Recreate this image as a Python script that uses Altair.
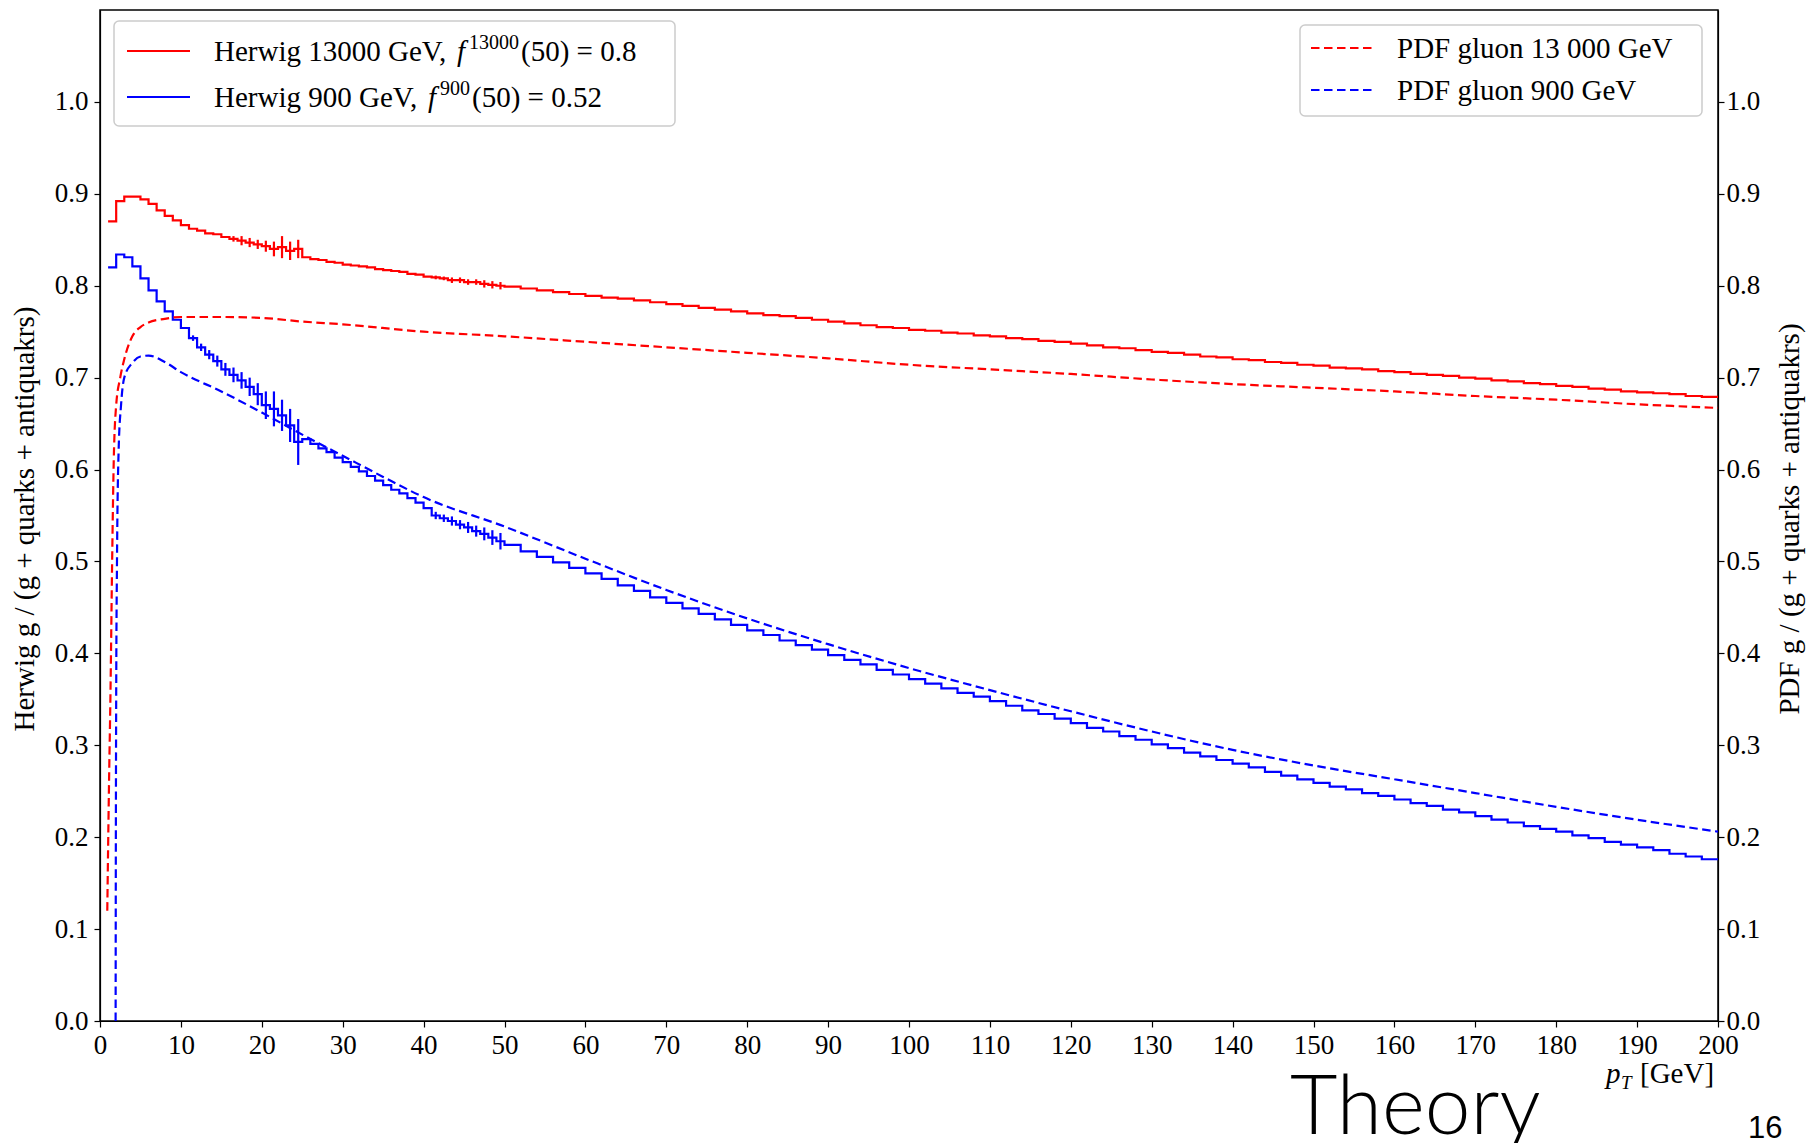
import altair as alt
import pandas as pd

FONT = "Liberation Serif"
RED = "#ff0000"
BLUE = "#0000ff"

# ---------------- data ----------------
# Herwig histograms: 1 GeV bins starting at 1..49, then 2 GeV bins 50..198
fine_bin_start = list(range(1, 50))
coarse_bin_start = list(range(50, 200, 2))

herwig_13000_fine = [
    0.870, 0.892, 0.897, 0.897, 0.894, 0.889, 0.882, 0.876, 0.871, 0.866,
    0.862, 0.860, 0.857, 0.856, 0.853, 0.851, 0.849, 0.847, 0.845, 0.843,
    0.840, 0.842, 0.838, 0.840, 0.831, 0.829, 0.828, 0.826, 0.825, 0.823,
    0.822, 0.821, 0.820, 0.818, 0.817, 0.816, 0.815, 0.813, 0.812, 0.810,
    0.809, 0.808, 0.806, 0.806, 0.804, 0.804, 0.802, 0.801, 0.800,
]
herwig_13000_coarse = [
    0.799, 0.797, 0.795, 0.793, 0.791, 0.789, 0.787, 0.786, 0.784, 0.782,
    0.780, 0.778, 0.776, 0.774, 0.772, 0.770, 0.768, 0.767, 0.765, 0.763,
    0.761, 0.759, 0.757, 0.755, 0.754, 0.752, 0.751, 0.749, 0.748, 0.746,
    0.745, 0.743, 0.742, 0.740, 0.739, 0.737, 0.735, 0.733, 0.732, 0.730,
    0.728, 0.727, 0.725, 0.723, 0.722, 0.720, 0.719, 0.717, 0.716, 0.714,
    0.713, 0.711, 0.710, 0.709, 0.707, 0.706, 0.704, 0.703, 0.702, 0.700,
    0.699, 0.697, 0.696, 0.694, 0.693, 0.691, 0.690, 0.688, 0.687, 0.685,
    0.684, 0.683, 0.682, 0.680, 0.679,
]
herwig_900_fine = [
    0.820, 0.834, 0.831, 0.821, 0.808, 0.795, 0.783, 0.772, 0.763, 0.754,
    0.743, 0.733, 0.725, 0.718, 0.709, 0.703, 0.697, 0.690, 0.682, 0.670,
    0.666, 0.659, 0.648, 0.630, 0.633, 0.628, 0.623, 0.619, 0.613, 0.608,
    0.603, 0.598, 0.593, 0.588, 0.583, 0.578, 0.574, 0.569, 0.564, 0.558,
    0.550, 0.547, 0.544, 0.540, 0.537, 0.533, 0.530, 0.526, 0.522,
]
herwig_900_coarse = [
    0.518, 0.511, 0.505, 0.499, 0.493, 0.487, 0.481, 0.474, 0.468, 0.461,
    0.455, 0.449, 0.443, 0.437, 0.431, 0.425, 0.420, 0.414, 0.409, 0.404,
    0.398, 0.393, 0.388, 0.382, 0.377, 0.372, 0.367, 0.362, 0.357, 0.353,
    0.348, 0.343, 0.338, 0.334, 0.329, 0.324, 0.319, 0.315, 0.310, 0.306,
    0.301, 0.297, 0.292, 0.288, 0.284, 0.280, 0.276, 0.271, 0.267, 0.263,
    0.259, 0.255, 0.252, 0.248, 0.245, 0.241, 0.237, 0.234, 0.230, 0.227,
    0.223, 0.219, 0.216, 0.212, 0.209, 0.206, 0.202, 0.199, 0.195, 0.192,
    0.189, 0.186, 0.182, 0.179, 0.176,
]

# statistical error bars (bin start, half-length)
err_bins_13000 = [16, 17, 18, 19, 20, 21, 22, 23, 24, 41, 42, 43, 44, 45, 46, 47, 48, 49]
err_13000 = [0.003, 0.005, 0.005, 0.005, 0.006, 0.008, 0.012, 0.010, 0.010,
             0.002, 0.002, 0.003, 0.003, 0.003, 0.003, 0.004, 0.004, 0.004]
err_bins_900 = [11, 12, 13, 14, 15, 16, 17, 18, 19, 20, 21, 22, 23, 24,
                41, 42, 43, 44, 45, 46, 47, 48, 49]
err_900 = [0.003, 0.004, 0.005, 0.006, 0.007, 0.008, 0.009, 0.010, 0.012, 0.015,
           0.019, 0.017, 0.018, 0.025,
           0.004, 0.004, 0.005, 0.005, 0.006, 0.006, 0.007, 0.008, 0.009]

# PDF gluon fractions (dashed)
pdf_pt_13000 = [0.9, 1.1, 1.3, 1.5, 1.7, 2.0, 2.5, 3, 4, 5, 6, 8, 10, 15, 20, 25, 30, 40, 50,
                60, 70, 80, 90, 100, 110, 120, 130, 140, 150, 160, 170, 180, 190, 200]
pdf_13000 = [0.12, 0.25, 0.36, 0.50, 0.61, 0.67, 0.70, 0.72, 0.745, 0.755, 0.760, 0.764, 0.766,
             0.766, 0.765, 0.761, 0.758, 0.750, 0.745, 0.739, 0.733, 0.727, 0.721, 0.714,
             0.709, 0.704, 0.698, 0.693, 0.689, 0.685, 0.680, 0.676, 0.671, 0.667]
pdf_pt_900 = [1.93, 1.96, 2.0, 2.1, 2.3, 2.6, 3, 4, 5, 6, 8, 10, 15, 20, 25, 30, 35, 40, 50,
              60, 70, 80, 90, 100, 110, 120, 130, 140, 150, 160, 170, 180, 190, 200]
pdf_900 = [0.0, 0.2, 0.35, 0.5, 0.62, 0.67, 0.70, 0.716, 0.723, 0.724, 0.717, 0.706,
           0.685, 0.662, 0.638, 0.615, 0.592, 0.570, 0.538, 0.503, 0.469, 0.438, 0.410,
           0.384, 0.360, 0.337, 0.315, 0.295, 0.278, 0.263, 0.248, 0.233, 0.219, 0.206]

x_ticks = list(range(0, 201, 10))
y_ticks = [0.0, 0.1, 0.2, 0.3, 0.4, 0.5, 0.6, 0.7, 0.8, 0.9, 1.0]

legend_left = ["Herwig 13000 GeV,", "Herwig 900 GeV,"]
legend_left_sup = ["13000", "900"]
legend_left_tail = ["(50) = 0.8", "(50) = 0.52"]
legend_right = ["PDF gluon 13 000 GeV", "PDF gluon 900 GeV"]
y_title_left = "Herwig g / (g + quarks + antiquakrs)"
y_title_right = "PDF g / (g + quarks + antiquakrs)"

# ---------------- tables ----------------
def hist_table(fine, coarse):
    edges = fine_bin_start + coarse_bin_start + [200]
    vals = fine + coarse + [coarse[-1]]
    return pd.DataFrame({"pt": edges, "v": vals})


def err_table(bins, errs, fine):
    rows = []
    for b, e in zip(bins, errs):
        v = fine[b - 1]
        rows.append({"pt": b + 0.5, "lo": v - e, "hi": v + e})
    return pd.DataFrame(rows)


h13 = hist_table(herwig_13000_fine, herwig_13000_coarse)
h9 = hist_table(herwig_900_fine, herwig_900_coarse)
e13 = err_table(err_bins_13000, err_13000, herwig_13000_fine)
e9 = err_table(err_bins_900, err_900, herwig_900_fine)
p13 = pd.DataFrame({"pt": pdf_pt_13000, "v": pdf_13000})
p9 = pd.DataFrame({"pt": pdf_pt_900, "v": pdf_900})

# ---------------- scales / axes ----------------
xscale = alt.Scale(domain=[0, 200], nice=False, zero=False)
yscale = alt.Scale(domain=[0, 1.1], nice=False, zero=False)

common_axis = dict(
    grid=False, labelFont=FONT, labelFontSize=27, labelColor="black",
    domainColor="black", domainWidth=1.2, tickColor="black", tickWidth=1.2,
    tickSize=6, title=None, labelOverlap=False, labelFlush=False,
)
x_axis = alt.Axis(values=x_ticks, labelPadding=5, **common_axis)
y_left = alt.Axis(orient="left", values=y_ticks, format=".1f", labelPadding=6, **common_axis)
y_right = alt.Axis(orient="right", values=y_ticks, format=".1f", labelPadding=2, **common_axis)

X = alt.X("pt:Q", scale=xscale, axis=x_axis)


def hist_line(df, color):
    return alt.Chart(df).mark_line(interpolate="step-after", color=color, strokeWidth=2.2, clip=True).encode(
        x=X, y=alt.Y("v:Q", scale=yscale, axis=y_left))


def err_rule(df, color):
    return alt.Chart(df).mark_rule(color=color, strokeWidth=2.2).encode(
        x=X, y=alt.Y("lo:Q", scale=yscale, axis=y_left), y2="hi:Q")


def pdf_line(df, color):
    return alt.Chart(df).mark_line(interpolate="monotone", color=color, strokeWidth=2.2,
                                   strokeDash=[8.5, 4.5], clip=True).encode(
        x=X, y=alt.Y("v:Q", scale=yscale, axis=y_right))


left = alt.layer(hist_line(h13, RED), hist_line(h9, BLUE), err_rule(e13, RED), err_rule(e9, BLUE))
right = alt.layer(pdf_line(p13, RED), pdf_line(p9, BLUE))

one = pd.DataFrame({"a": [0]})


def txt(text, x, y, size=29, font=FONT, style="normal", align="left", baseline="alphabetic",
        angle=0, weight=None):
    kw = dict(text=text, font=font, fontSize=size, fontStyle=style, align=align,
              baseline=baseline, color="black")
    if angle:
        kw["angle"] = angle
    if weight:
        kw["fontWeight"] = weight
    return alt.Chart(one).mark_text(**kw).encode(x=alt.value(x), y=alt.value(y))


def box(x1, x2, y1, y2):
    return alt.Chart(one).mark_rect(fill="white", fillOpacity=0.8, stroke="#cccccc",
                                    strokeWidth=1.5, cornerRadius=5).encode(
        x=alt.value(x1), x2=alt.value(x2), y=alt.value(y1), y2=alt.value(y2))


def sample(x1, x2, y, color, dash=None):
    kw = dict(color=color, strokeWidth=2.2)
    if dash:
        kw["strokeDash"] = dash
    return alt.Chart(one).mark_rule(**kw).encode(x=alt.value(x1), x2=alt.value(x2), y=alt.value(y))


ann = [
    # left legend
    box(14, 575, 11, 116),
    sample(27, 90, 41, RED), sample(27, 90, 87, BLUE),
    txt(legend_left[0], 114, 51), txt("f", 357, 51, style="italic"),
    txt(legend_left_sup[0], 369, 39, size=20), txt(legend_left_tail[0], 421, 51),
    txt(legend_left[1], 114, 97), txt("f", 328, 97, style="italic"),
    txt(legend_left_sup[1], 340, 85, size=20), txt(legend_left_tail[1], 372, 97),
    # right legend
    box(1200, 1602, 15, 106),
    sample(1211, 1274, 38, RED, [8.5, 4.5]), sample(1211, 1274, 80, BLUE, [8.5, 4.5]),
    txt(legend_right[0], 1297, 48), txt(legend_right[1], 1297, 90),
    # axis titles
    txt(y_title_left, -75, 509, align="center", baseline="middle", angle=270),
    txt(y_title_right, 1690, 509, align="center", baseline="middle", angle=270),
    txt("p", 1506, 1073, style="italic"), txt("T", 1521, 1079, size=19, style="italic"),
    txt("[GeV]", 1540, 1073),
    # slide overlays
    txt("Theory", 1190, 1124, size=82, font="Lato", weight=300),
    txt("16", 1648, 1128, size=31, font="Liberation Sans"),
]

chart = alt.layer(left, right, *ann).resolve_scale(y="independent").properties(
    width=1618, height=1011,
    padding={"left": 100, "top": 10, "right": 90, "bottom": 122},
    autosize=alt.AutoSizeParams(type="none"),
    background="white",
).configure_view(stroke="black", strokeWidth=1.5)

chart.save("out.html", embed_options={"renderer": "svg", "actions": False})
